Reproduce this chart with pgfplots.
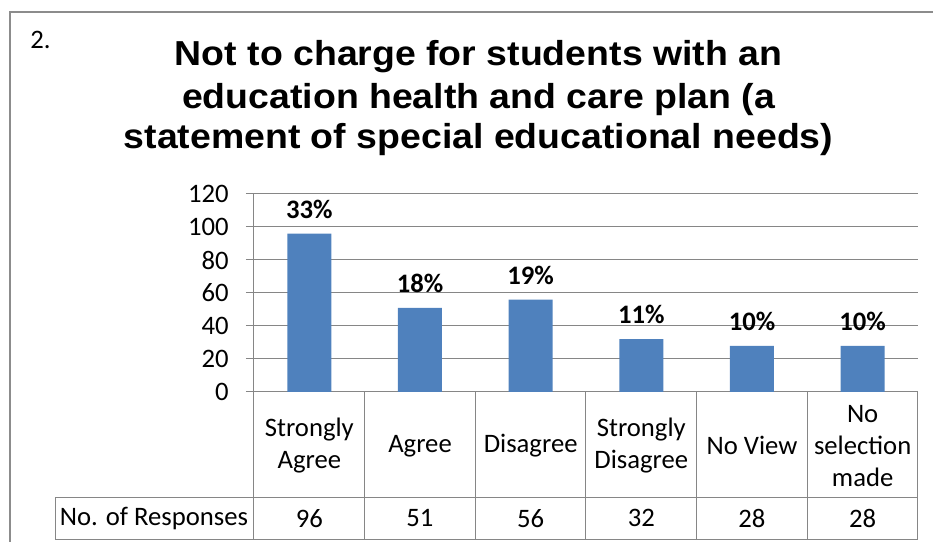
\documentclass[border=0pt]{standalone}
\usepackage{fontspec}
\setmainfont{Carlito}
\newfontfamily\titlefont[FakeStretch=1.08]{Liberation Sans}
\usepackage{pgfplots}
\pgfplotsset{compat=1.18}
\definecolor{barblue}{HTML}{4F81BD}
\definecolor{gridgray}{HTML}{868686}
\definecolor{framegray}{HTML}{8C8C8C}
\newcommand{\lbl}{\fontsize{20}{24}\selectfont}
\begin{document}
\begin{tikzpicture}
\begin{axis}[
  scale only axis, width=498pt, height=148.5pt,
  xmin=-0.5, xmax=5.5, ymin=0, ymax=120,
  axis lines=left,
  axis line style={-, draw=gridgray, line width=0.75pt},
  ytick={0,20,...,120},
  xtick={0,...,5},
  xticklabels={{Strongly\\Agree},Agree,Disagree,{Strongly\\Disagree},No View,{No\\selection\\made}},
  ymajorgrids, grid style={gridgray, line width=0.75pt},
  tick style={gridgray, line width=0.75pt},
  tick align=outside, major tick length=6pt,
  xtick style={draw=none},
  /pgf/number format/assume math mode=true,
  tick label style={font=\lbl},
  yticklabel style={anchor=east, inner sep=0pt, xshift=-12.75pt},
  xticklabel style={align=center, anchor=center, yshift=-34.35pt},
  clip=false,
  ybar, bar width=33pt,
  nodes near coords, point meta=explicit symbolic,
  nodes near coords style={font=\bfseries\lbl, anchor=center, yshift=18.5pt},
]
\addplot[fill=barblue, draw=none] coordinates {(0,96) [33\%] (1,51) [18\%] (2,56) [19\%] (3,32) [11\%] (4,28) [10\%] (5,28) [10\%]};
% data table grid
\draw[gridgray, line width=0.75pt] (axis cs:-2.298,-63.9) -- (axis cs:5.5,-63.9);
\draw[gridgray, line width=0.75pt] (axis cs:-2.298,-89.1) -- (axis cs:5.5,-89.1);
\draw[gridgray, line width=0.75pt] (axis cs:-2.298,-63.9) -- (axis cs:-2.298,-89.1);
\draw[gridgray, line width=0.75pt] (axis cs:-0.5,0) -- (axis cs:-0.5,-89.1);
\draw[gridgray, line width=0.75pt] (axis cs:0.5,0) -- (axis cs:0.5,-89.1);
\draw[gridgray, line width=0.75pt] (axis cs:1.5,0) -- (axis cs:1.5,-89.1);
\draw[gridgray, line width=0.75pt] (axis cs:2.5,0) -- (axis cs:2.5,-89.1);
\draw[gridgray, line width=0.75pt] (axis cs:3.5,0) -- (axis cs:3.5,-89.1);
\draw[gridgray, line width=0.75pt] (axis cs:4.5,0) -- (axis cs:4.5,-89.1);
\draw[gridgray, line width=0.75pt] (axis cs:5.5,0) -- (axis cs:5.5,-89.1);
\node[font=\lbl] at (axis cs:-1.4036,-76.5) {No. of Responses};
\node[font=\lbl] at (axis cs:0,-76.5) {96};
\node[font=\lbl] at (axis cs:1,-76.5) {51};
\node[font=\lbl] at (axis cs:2,-76.5) {56};
\node[font=\lbl] at (axis cs:3,-76.5) {32};
\node[font=\lbl] at (axis cs:4,-76.5) {28};
\node[font=\lbl] at (axis cs:5,-76.5) {28};
\end{axis}
% title and number
\node[anchor=base, font=\titlefont\bfseries\fontsize{26}{30}\selectfont] at (168.4pt,244.5pt) {Not to charge for students with an};
\node[anchor=base, font=\titlefont\bfseries\fontsize{26}{30}\selectfont] at (168.4pt,212.8pt) {education health and care plan (a};
\node[anchor=base, font=\titlefont\bfseries\fontsize{26}{30}\selectfont] at (168.4pt,182.8pt) {statement of special educational needs)};
\node[anchor=base west, inner sep=0pt, font=\lbl] at (-168pt,257.8pt) {2.};
% outer chart frame
\draw[framegray, line width=1.5pt] (-183pt,-114pt) -- (-183pt,285pt) -- (512pt,285pt);
\pgfresetboundingbox
\path[use as bounding box] (-190.5pt,-112.5pt) rectangle (509.25pt,294pt);
\end{tikzpicture}
\end{document}
